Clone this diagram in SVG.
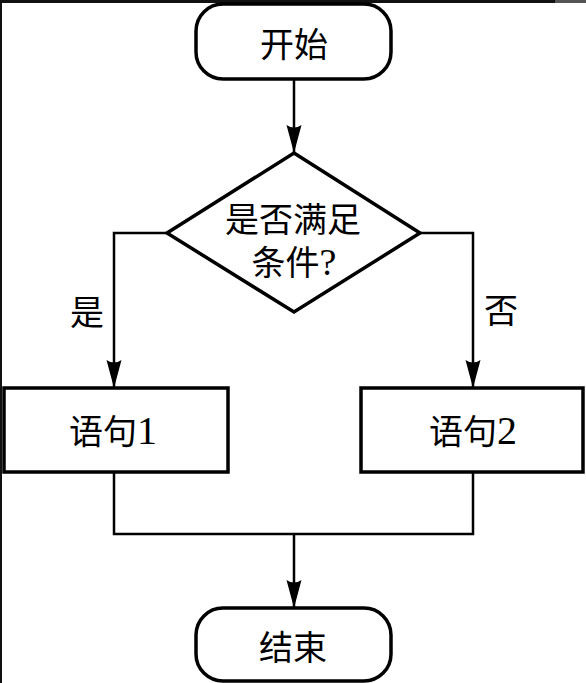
<svg xmlns="http://www.w3.org/2000/svg" width="586" height="683" viewBox="0 0 586 683">
<style>
.box{fill:#fff;stroke:#000;stroke-width:3.5}
.ln{fill:none;stroke:#000;stroke-width:2.5}
.t{font-family:"Liberation Serif","Noto Sans CJK SC",serif;font-size:34px;fill:#000;text-anchor:middle}
.big{font-size:40px}
.q{font-size:38px}
</style>
<defs>
<marker id="arr" viewBox="0 0 28 16" refX="28" refY="8" markerWidth="28" markerHeight="16" markerUnits="userSpaceOnUse" orient="auto">
<path d="M0,0.5 L28,8 L0,15.5 Q5,8 0,0.5 z" fill="#000"/>
</marker>
</defs>
<rect x="0" y="0" width="586" height="683" fill="#fff"/>
<rect x="0" y="0" width="586" height="3" fill="#111"/>
<rect x="555" y="0" width="31" height="3" fill="#555"/>
<rect x="0" y="0" width="2" height="683" fill="#111"/>
<g id="connectors">
<path class="ln" d="M294,79 V153" marker-end="url(#arr)"/>
<path class="ln" d="M167,233 H114 V388" marker-end="url(#arr)"/>
<path class="ln" d="M420,233 H473 V388" marker-end="url(#arr)"/>
<path class="ln" d="M114,472 V534 H473 V472"/>
<path class="ln" d="M294,534 V608" marker-end="url(#arr)"/>
<text class="t" x="87" y="325">是</text>
<text class="t" x="501" y="323">否</text>
</g>
<g id="start">
<rect class="box" x="196" y="4" width="195" height="75" rx="27" ry="27"/>
<text class="t" x="294" y="57">开始</text>
</g>
<g id="decision">
<polygon class="box" points="294,153 420,233 294,312 167,233"/>
<text class="t" x="293" y="232">是否满足</text>
<text class="t" x="294" y="275">条件<tspan class="q">?</tspan></text>
</g>
<g id="stmt1">
<rect class="box" x="4" y="388" width="224" height="84"/>
<text class="t" x="113" y="444">语句<tspan class="big">1</tspan></text>
</g>
<g id="stmt2">
<rect class="box" x="361" y="388" width="222" height="84"/>
<text class="t" x="473" y="444">语句<tspan class="big">2</tspan></text>
</g>
<g id="end">
<rect class="box" x="196" y="608" width="195" height="73" rx="27" ry="27"/>
<text class="t" x="293" y="660">结束</text>
</g>
</svg>
